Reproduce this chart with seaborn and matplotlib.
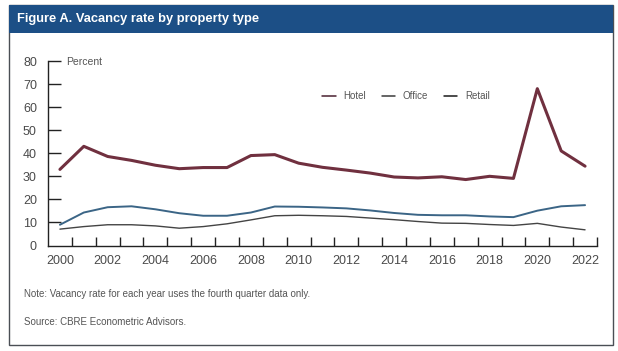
import numpy as np
import pandas as pd
import matplotlib
matplotlib.use("Agg")
import matplotlib.pyplot as plt
from matplotlib.patches import Rectangle
import seaborn as sns

years = list(range(2000, 2023))
hotel = [33.0, 43.0, 38.6, 36.9, 34.8, 33.3, 33.8, 33.8, 39.0, 39.4, 35.7, 33.9,
         32.7, 31.4, 29.7, 29.3, 29.8, 28.6, 30.0, 29.1, 68.0, 41.0, 34.4]
office = [9.0, 14.3, 16.6, 17.0, 15.7, 14.0, 12.9, 12.9, 14.3, 16.9, 16.8, 16.5,
          16.1, 15.2, 14.1, 13.3, 13.1, 13.1, 12.6, 12.3, 15.1, 17.0, 17.5]
retail = [7.1, 8.2, 9.0, 9.0, 8.5, 7.5, 8.2, 9.4, 11.1, 12.9, 13.1, 12.9,
          12.6, 11.9, 11.2, 10.4, 9.7, 9.6, 9.1, 8.7, 9.6, 8.0, 6.8]
series_names = ["Hotel", "Office", "Retail"]
y_ticks = [0, 10, 20, 30, 40, 50, 60, 70, 80]
x_labels = list(range(2000, 2023, 2))

title = "Figure A. Vacancy rate by property type"
note = "Note: Vacancy rate for each year uses the fourth quarter data only."
source = "Source: CBRE Econometric Advisors."

sns.set_theme(style="white")
narrow = ["Liberation Sans Narrow", "Liberation Sans", "DejaVu Sans"]
plt.rcParams["font.family"] = narrow

fig = plt.figure(figsize=(6.18, 3.51), dpi=100)

# frame and header
W, H = 618, 351
def fx(x): return x / W
def fy(y): return 1 - y / H
fig.patches.append(Rectangle((fx(9), fy(345)), fx(613) - fx(9), fy(5) - fy(345),
                             transform=fig.transFigure, facecolor="white",
                             edgecolor="#4a4f55", lw=1.0, zorder=-2))
fig.patches.append(Rectangle((fx(9), fy(33)), fx(613) - fx(9), fy(5) - fy(33),
                             transform=fig.transFigure, facecolor="#1c4f86",
                             edgecolor="none", zorder=-1))
fig.text(fx(17), fy(19), title, color="white", fontsize=9.3, fontweight="bold",
         va="center", ha="left", family=narrow)

ax = fig.add_axes([fx(48), fy(245.5), fx(597) - fx(48), fy(61) - fy(245.5)])
ax.set_zorder(5)
ax.set_facecolor("none")

df = pd.DataFrame({"Year": years * 3,
                   "Rate": hotel + office + retail,
                   "Type": [n for n in series_names for _ in years]})

colors = {"Hotel": "#70303f", "Office": "#3b6586", "Retail": "#444444"}
widths = {"Hotel": 2.2, "Office": 1.4, "Retail": 1.0}
for name in series_names:
    sub = df[df["Type"] == name]
    sns.lineplot(data=sub, x="Year", y="Rate", ax=ax, color=colors[name],
                 lw=widths[name], label=name)

leg_handles = [plt.Line2D([], [], color=c, lw=1.1) for c in ["#4a2030", "#3a3a3a", "#1a1a1a"]]
ax.legend(leg_handles, series_names, ncol=3, frameon=False, loc="center",
          bbox_to_anchor=(fx(406), fy(96)), bbox_transform=fig.transFigure,
          fontsize=7, handlelength=1.4, handletextpad=0.8, columnspacing=1.6,
          labelcolor="#555555")

ax.set_xlim(1999.5, 2022.5)
ax.set_ylim(0, 80)
ax.set_xlabel("")
ax.set_ylabel("")
ax.set_xticks(x_labels)
ax.set_xticklabels([str(x) for x in x_labels])
ax.set_xticks([y + 0.5 for y in years], minor=True)
ax.tick_params(axis="x", which="major", length=0, pad=7, labelsize=9,
               labelcolor="#4a4a4a")
ax.tick_params(axis="x", which="minor", direction="in", length=6.5, width=1,
               color="#222222", bottom=True)
ax.set_yticks(y_ticks)
ax.set_yticklabels([str(v) for v in y_ticks])
ax.tick_params(axis="y", which="major", direction="in", length=9.5, width=1,
               color="#222222", pad=8, labelsize=9, labelcolor="#4a4a4a", left=True)
ax.yaxis.get_major_ticks()[0].tick1line.set_visible(False)
for s in ["top", "right"]:
    ax.spines[s].set_visible(False)
for s in ["left", "bottom"]:
    ax.spines[s].set_color("#222222")
    ax.spines[s].set_linewidth(1.0)
ax.grid(False)

ax.text(fx(66), fy(62), "Percent", transform=fig.transFigure, fontsize=7.5,
        color="#555555", va="center", ha="left")

fig.text(fx(24), fy(294), note, fontsize=7, color="#555555", va="center", ha="left")
fig.text(fx(24), fy(322), source, fontsize=7, color="#555555", va="center", ha="left")

fig.savefig("out.png", dpi=100)
